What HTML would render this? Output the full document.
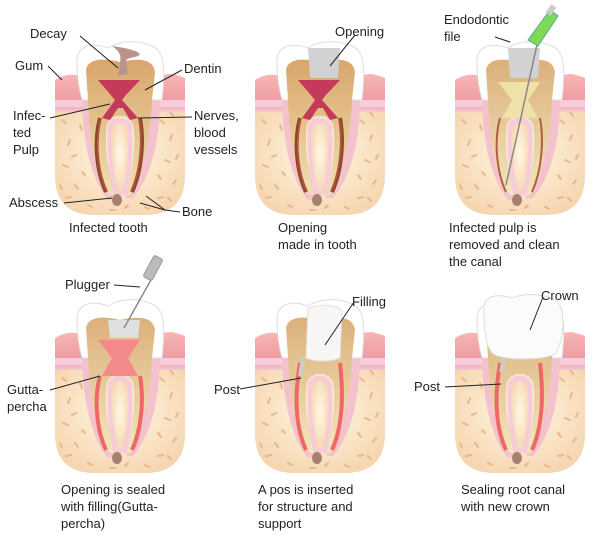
<!DOCTYPE html>
<html><head><meta charset="utf-8"><style>
body{margin:0;background:#fff}
svg{display:block}
text{font-family:"Liberation Sans",sans-serif;font-size:13px;fill:#222}
</style></head><body>
<svg width="600" height="550" viewBox="0 0 600 550" xmlns="http://www.w3.org/2000/svg">
<defs>
<radialGradient id="bg" cx="0.5" cy="0.45" r="0.6"><stop offset="0" stop-color="#fff8e6"/><stop offset="1" stop-color="#f6d6b0"/></radialGradient>
<linearGradient id="gum" x1="0" y1="0" x2="0" y2="1"><stop offset="0" stop-color="#f7b5b5"/><stop offset="0.7" stop-color="#ee9ca3"/><stop offset="1" stop-color="#f4c6d0"/></linearGradient>
<linearGradient id="den" x1="0" y1="0" x2="0" y2="1"><stop offset="0" stop-color="#d9a66c"/><stop offset="1" stop-color="#f0e0b0"/></linearGradient>
<linearGradient id="den2" x1="0" y1="0" x2="0" y2="1"><stop offset="0" stop-color="#dcb07c"/><stop offset="1" stop-color="#f2e6bc"/></linearGradient>
<g id="base">
  <path d="M55,100 L55,175 Q55,215 95,215 L145,215 Q185,215 185,175 L185,100 Z" fill="url(#bg)"/>
  <g stroke="#e8b88c" stroke-width="2" stroke-linecap="round" fill="none">
    <path d="M62,120 l4,3 M70,140 l-2,5 M63,165 l5,2 M75,185 l3,4 M66,198 l5,-1 M88,205 l4,2 M80,125 l2,5 M72,157 l4,-2 M160,120 l4,3 M172,135 l-2,5 M165,160 l5,2 M176,180 l-3,4 M158,198 l5,-1 M145,207 l4,2 M170,112 l3,4 M178,155 l-2,4 M110,210 l5,0 M125,208 l3,-3 M60,185 l2,4 M168,198 l3,3 M82,172 l3,3 M158,175 l3,4"/>
  </g>
  <path d="M55,80 Q68,72 80,76 L90,82 L96,112 L55,112 Z" fill="url(#gum)"/>
  <path d="M148,82 Q160,74 172,74 Q180,76 185,78 L185,112 L144,112 Z" fill="url(#gum)"/>
  <path d="M55,100 L96,100 L96,107 L55,107 Z M144,100 L185,100 L185,107 L144,107 Z" fill="#f7cddc"/>
  <path d="M82,95 C82,150 95,185 108,200 L116,200 C110,175 102,140 104,122 C108,110 132,110 136,122 C138,140 132,175 126,198 L133,198 C148,180 160,150 160,95 Z" fill="#f4c2cc"/>
  <path d="M77,62 C77,45 92,42 108,48 C120,40 140,40 152,46 C166,52 165,72 162,100 L82,100 C78,86 77,74 77,62 Z" fill="#fff" stroke="#ddd" stroke-width="1"/>
</g>
<g id="dentin">
  <path d="M86,70 C88,58 104,58 120,62 C138,58 153,58 155,72 L152,100 C150,145 140,180 130,195 L126,195 C133,170 136,140 133,124 C128,113 112,113 107,124 C104,145 108,172 114,195 L110,195 C96,178 90,145 88,100 Z" fill="url(#den)"/>
  <path d="M108,125 C111,115 129,115 132,126 C134,145 132,170 127,195 L114,195 C108,170 106,145 108,125 Z" fill="#f6cdd6"/>
  <path d="M112,130 C114,121 126,121 128,130 C129,150 127,170 123,190 L118,190 C113,170 111,150 112,130 Z" fill="url(#bg)"/>
</g>
<g id="dentin2">
  <path d="M86,70 C88,58 104,58 120,62 C138,58 153,58 155,72 L152,100 C150,145 140,180 130,195 L126,195 C133,170 136,140 133,124 C128,113 112,113 107,124 C104,145 108,172 114,195 L110,195 C96,178 90,145 88,100 Z" fill="url(#den2)"/>
  <path d="M108,125 C111,115 129,115 132,126 C134,145 132,170 127,195 L114,195 C108,170 106,145 108,125 Z" fill="#f6cdd6"/>
  <path d="M112,130 C114,121 126,121 128,130 C129,150 127,170 123,190 L118,190 C113,170 111,150 112,130 Z" fill="url(#bg)"/>
</g>
</defs>

<!-- Panel 1 -->
<use href="#base"/>
<use href="#dentin"/>
<path d="M98,80 L140,80 L125,96 L122,100 L138,118 L130,120 L123,108 L118,108 L110,120 L102,118 L115,100 Z" fill="#c43b5a"/>
<path d="M100,118 C94,140 96,170 106,192 M140,118 C144,140 142,170 132,192" stroke="#8a4a2a" stroke-width="4" fill="none"/>
<path d="M101,118 C95,140 97,170 107,192 M139,118 C143,140 141,170 131,192" stroke="#c05040" stroke-width="1.5" fill="none"/>
<path d="M112,46 C118,50 122,55 120,62 L118,76 L128,74 L126,60 C132,56 138,58 140,54 C136,50 126,48 112,46 Z" fill="#b8958a"/>
<ellipse cx="117" cy="200" rx="5" ry="6" fill="#a88070"/>

<!-- Panel 2 -->
<g transform="translate(200,0)">
<use href="#base"/>
<use href="#dentin"/>
<path d="M98,80 L140,80 L125,96 L122,100 L138,118 L130,120 L123,108 L118,108 L110,120 L102,118 L115,100 Z" fill="#c43b5a"/>
<path d="M100,118 C94,140 96,170 106,192 M140,118 C144,140 142,170 132,192" stroke="#8a4a2a" stroke-width="4" fill="none"/>
<path d="M101,118 C95,140 97,170 107,192 M139,118 C143,140 141,170 131,192" stroke="#c05040" stroke-width="1.5" fill="none"/>
<path d="M108,48 L140,48 L138,78 L110,78 Z" fill="#d2d2d2"/>
<ellipse cx="117" cy="200" rx="5" ry="6" fill="#a88070"/>
</g>

<!-- Panel 3 -->
<g transform="translate(400,0)">
<use href="#base"/>
<use href="#dentin2"/>
<path d="M98,82 L140,82 L128,100 L138,118 L102,118 L112,100 Z" fill="#efe2a8"/>
<path d="M108,48 L140,48 L138,78 L110,78 Z" fill="#d2d2d2"/>
<path d="M100,118 C94,140 96,170 106,192 M140,118 C144,140 142,170 132,192" stroke="#b06040" stroke-width="2" fill="none"/>
<line x1="106" y1="185" x2="138" y2="40" stroke="#888" stroke-width="1.5"/>
<path d="M128,40 L150,10 L158,16 L138,46 Z" fill="#7ed957" stroke="#5a9" stroke-width="1"/>
<rect x="148" y="5" width="6" height="10" fill="#ccc" transform="rotate(35 151 10)"/>
<ellipse cx="117" cy="200" rx="5" ry="6" fill="#a88070"/>
</g>

<!-- Panel 4 -->
<g transform="translate(0,258)">
<use href="#base"/>
<use href="#dentin2"/>
<path d="M98,82 L140,82 L128,100 L138,118 L102,118 L112,100 Z" fill="#f28a8a"/>
<path d="M100,118 C94,140 96,170 106,192 M140,118 C144,140 142,170 132,192" stroke="#ee6868" stroke-width="4" fill="none"/>
<path d="M108,62 L140,62 L138,80 L110,80 Z" fill="#e0e0e0"/>
<line x1="124" y1="70" x2="152" y2="20" stroke="#888" stroke-width="1.5"/>
<rect x="148" y="-2" width="10" height="24" rx="2" fill="#bbb" stroke="#999" transform="rotate(28 153 10)"/>
<ellipse cx="117" cy="200" rx="5" ry="6" fill="#a88070"/>
</g>

<!-- Panel 5 -->
<g transform="translate(200,258)">
<use href="#base"/>
<use href="#dentin2"/>
<path d="M100,105 C94,140 96,170 106,192 M140,105 C144,140 142,170 132,192" stroke="#ee6868" stroke-width="4" fill="none"/>
<line x1="103" y1="100" x2="100" y2="118" stroke="#ccc" stroke-width="4"/>
<path d="M108,50 C118,46 135,46 142,52 L140,100 C130,104 115,104 106,100 Z" fill="#f8f6f4" stroke="#e8e0e0"/>
<ellipse cx="117" cy="200" rx="5" ry="6" fill="#a88070"/>
</g>

<!-- Panel 6 -->
<g transform="translate(400,258)">
<use href="#base"/>
<use href="#dentin2"/>
<path d="M100,105 C94,140 96,170 106,192 M140,105 C144,140 142,170 132,192" stroke="#ee6868" stroke-width="4" fill="none"/>
<line x1="104" y1="100" x2="101" y2="114" stroke="#ccc" stroke-width="4"/>
<path d="M84,50 C84,36 100,36 112,40 C126,34 148,36 158,44 C166,55 164,80 156,95 C148,103 100,103 92,95 C84,85 84,65 84,50 Z" fill="#fbfbfb" stroke="#ddd"/>
<ellipse cx="117" cy="200" rx="5" ry="6" fill="#a88070"/>
</g>

<g stroke="#222" stroke-width="1" fill="none">
<line x1="80" y1="36" x2="118" y2="68"/>
<line x1="48" y1="66" x2="62" y2="80"/>
<line x1="182" y1="70" x2="145" y2="90"/>
<line x1="50" y1="118" x2="110" y2="104"/>
<line x1="192" y1="117" x2="138" y2="118"/>
<line x1="64" y1="203" x2="112" y2="198"/>
<line x1="180" y1="212" x2="165" y2="210"/>
<line x1="165" y1="210" x2="146" y2="196"/>
<line x1="165" y1="210" x2="140" y2="203"/>
<line x1="355" y1="35" x2="330" y2="66"/>
<line x1="495" y1="37" x2="510" y2="42"/>
<line x1="114" y1="285" x2="140" y2="287"/>
<line x1="50" y1="390" x2="100" y2="376"/>
<line x1="354" y1="302" x2="325" y2="345"/>
<line x1="240" y1="389" x2="301" y2="378"/>
<line x1="543" y1="297" x2="530" y2="330"/>
<line x1="445" y1="387" x2="501" y2="384"/>
</g>

<text x="30" y="38">Decay</text>
<text x="15" y="70">Gum</text>
<text x="184" y="73">Dentin</text>
<text x="13" y="120">Infec-</text>
<text x="13" y="137">ted</text>
<text x="13" y="154">Pulp</text>
<text x="194" y="120">Nerves,</text>
<text x="194" y="137">blood</text>
<text x="194" y="154">vessels</text>
<text x="9" y="207">Abscess</text>
<text x="182" y="216">Bone</text>
<text x="69" y="232">Infected tooth</text>

<text x="335" y="36">Opening</text>
<text x="278" y="232">Opening</text>
<text x="278" y="249">made in tooth</text>

<text x="444" y="24">Endodontic</text>
<text x="444" y="41">file</text>
<text x="449" y="232">Infected pulp is</text>
<text x="449" y="249">removed and clean</text>
<text x="449" y="266">the canal</text>

<text x="65" y="289">Plugger</text>
<text x="7" y="394">Gutta-</text>
<text x="7" y="411">percha</text>
<text x="61" y="494">Opening is sealed</text>
<text x="61" y="511">with filling(Gutta-</text>
<text x="61" y="528">percha)</text>

<text x="352" y="306">Filling</text>
<text x="214" y="394">Post</text>
<text x="258" y="494">A pos is inserted</text>
<text x="258" y="511">for structure and</text>
<text x="258" y="528">support</text>

<text x="541" y="300">Crown</text>
<text x="414" y="391">Post</text>
<text x="461" y="494">Sealing root canal</text>
<text x="461" y="511">with new crown</text>
</svg>
</body></html>
